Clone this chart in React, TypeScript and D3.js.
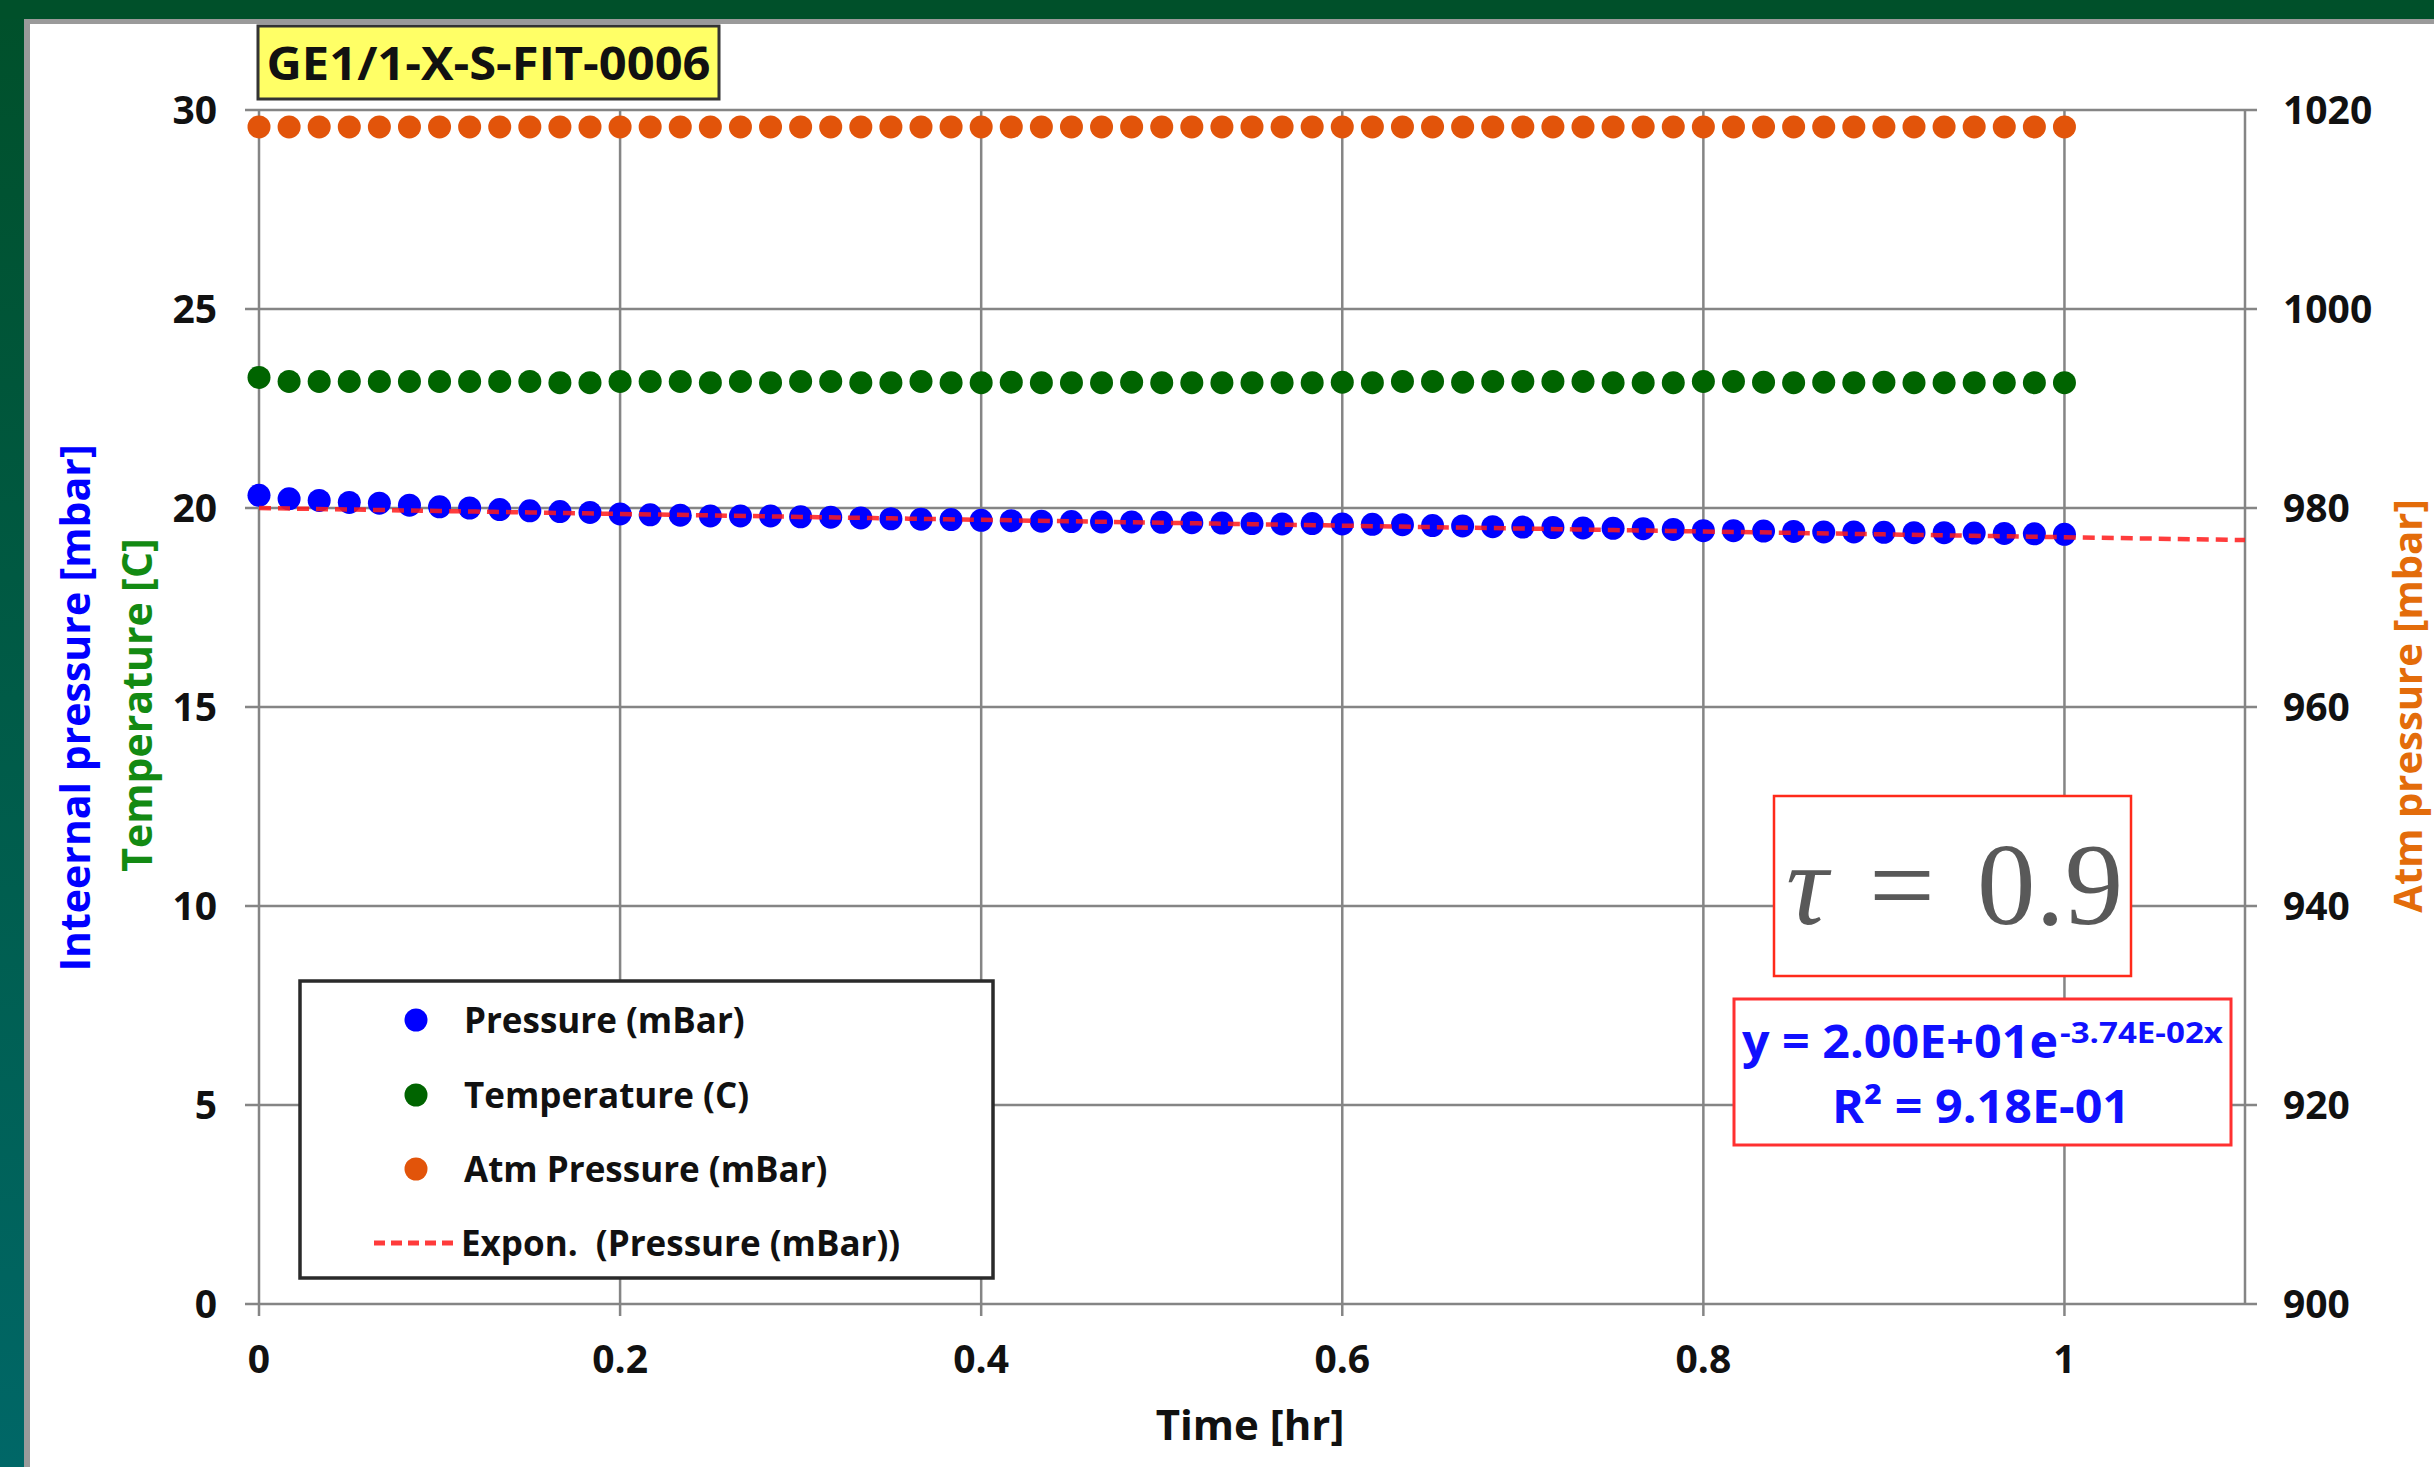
import React from 'react';
import * as d3 from 'd3';

// Time in minutes (converted to hours for plotting)
const TIME_MIN = [
  0, 1, 2, 3, 4, 5, 6, 7, 8, 9, 10, 11, 12, 13, 14, 15, 16, 17, 18, 19, 20,
  21, 22, 23, 24, 25, 26, 27, 28, 29, 30, 31, 32, 33, 34, 35, 36, 37, 38, 39, 40,
  41, 42, 43, 44, 45, 46, 47, 48, 49, 50, 51, 52, 53, 54, 55, 56, 57, 58, 59, 60,
];

const PRESSURE = [
  20.32, 20.23, 20.19, 20.14, 20.12, 20.07, 20.03, 20.0, 19.96, 19.93, 19.91,
  19.89, 19.85, 19.83, 19.82, 19.8, 19.8, 19.8, 19.78, 19.77, 19.75,
  19.73, 19.72, 19.71, 19.69, 19.68, 19.67, 19.66, 19.65, 19.65, 19.64,
  19.63, 19.62, 19.61, 19.6, 19.61, 19.6, 19.59, 19.58, 19.56, 19.55,
  19.53, 19.52, 19.51, 19.5, 19.49, 19.48, 19.46, 19.43, 19.43, 19.42,
  19.41, 19.4, 19.4, 19.39, 19.38, 19.38, 19.37, 19.36, 19.35, 19.34,
];

const TEMPERATURE = [
  23.28, 23.18, 23.18, 23.18, 23.18, 23.18, 23.18, 23.18, 23.18, 23.18, 23.15,
  23.15, 23.18, 23.18, 23.18, 23.15, 23.18, 23.15, 23.18, 23.18, 23.15,
  23.15, 23.18, 23.15, 23.15, 23.16, 23.15, 23.15, 23.15, 23.16, 23.15,
  23.15, 23.15, 23.15, 23.15, 23.15, 23.16, 23.15, 23.18, 23.18, 23.16,
  23.18, 23.18, 23.18, 23.18, 23.15, 23.15, 23.15, 23.18, 23.18, 23.16,
  23.15, 23.16, 23.15, 23.16, 23.15, 23.15, 23.15, 23.15, 23.15, 23.15,
];

const ATM_PRESSURE = [
  1018.3, 1018.3, 1018.3, 1018.3, 1018.3, 1018.3, 1018.3, 1018.3, 1018.3, 1018.3, 1018.3,
  1018.3, 1018.3, 1018.3, 1018.3, 1018.3, 1018.3, 1018.3, 1018.3, 1018.3, 1018.3,
  1018.3, 1018.3, 1018.3, 1018.3, 1018.3, 1018.3, 1018.3, 1018.3, 1018.3, 1018.3,
  1018.3, 1018.3, 1018.3, 1018.3, 1018.3, 1018.3, 1018.3, 1018.3, 1018.3, 1018.3,
  1018.3, 1018.3, 1018.3, 1018.3, 1018.3, 1018.3, 1018.3, 1018.3, 1018.3, 1018.3,
  1018.3, 1018.3, 1018.3, 1018.3, 1018.3, 1018.3, 1018.3, 1018.3, 1018.3, 1018.3,
];

// Exponential trendline parameters (from the chart's equation)
const FIT_A = 20.0;
const FIT_B = -0.0374;

const X_TICKS = [0, 0.2, 0.4, 0.6, 0.8, 1];
const Y_LEFT_TICKS = [0, 5, 10, 15, 20, 25, 30];
const Y_RIGHT_TICKS = [900, 920, 940, 960, 980, 1000, 1020];

const TITLE = 'GE1/1-X-S-FIT-0006';
const LEGEND_LABELS = ['Pressure (mBar)', 'Temperature (C)', 'Atm Pressure (mBar)', 'Expon.  (Pressure (mBar))'];

const C_BLUE = '#0000ff';
const C_GREEN = '#006400';
const C_ORANGE = '#e2540a';
const C_RED = '#ff1a1a';
const C_GRID = '#858585';
const FONT = "'Open Sans', sans-serif";

export default function App() {
  const W = 2434;
  const H = 1467;
  const x = d3.scaleLinear().domain([0, 1.1]).range([259, 2245]);
  const yL = d3.scaleLinear().domain([0, 30]).range([1304, 110]);
  const yR = d3.scaleLinear().domain([900, 1020]).range([1304, 110]);

  const times = TIME_MIN.map((m) => m / 60);
  const trendX = d3.range(0, 1.1 + 1e-9, 0.01);
  const trendLine = d3
    .line<number>()
    .x((t) => x(t))
    .y((t) => yL(FIT_A * Math.exp(FIT_B * t)))(trendX);

  const x0 = x(0);
  const x1 = x(1.1);
  const yTop = yL(30);
  const yBot = yL(0);
  const R = 11.5;

  const legendRows = [1020, 1095, 1169, 1243];

  return (
    <svg
      width={W}
      height={H}
      style={{ position: 'fixed', left: 0, top: 0, background: '#fff' }}
      fontFamily={FONT}
    >
      <defs>
        <linearGradient id="leftStrip" x1="0" y1="0" x2="0" y2="1">
          <stop offset="0" stopColor="#00502a" />
          <stop offset="1" stopColor="#006767" />
        </linearGradient>
      </defs>
      {/* frame */}
      <rect x={0} y={0} width={W} height={H} fill="#ffffff" />
      <rect x={24} y={19} width={6} height={H} fill="#9a9a9a" />
      <rect x={24} y={19} width={W} height={5} fill="#9a9a9a" />
      <rect x={0} y={0} width={24} height={H} fill="url(#leftStrip)" />
      <rect x={0} y={0} width={W} height={19} fill="#00502a" />

      {/* gridlines */}
      {Y_LEFT_TICKS.map((t) => (
        <line key={'h' + t} x1={x0 - 14} x2={x1 + 12} y1={yL(t)} y2={yL(t)} stroke={C_GRID} strokeWidth={2.5} />
      ))}
      {[...X_TICKS, 1.1].map((t) => (
        <line key={'v' + t} x1={x(t)} x2={x(t)} y1={yTop} y2={yBot + (t === 1.1 ? 0 : 12)} stroke={C_GRID} strokeWidth={2.5} />
      ))}

      {/* tick labels */}
      {Y_LEFT_TICKS.map((t) => (
        <text key={'yl' + t} x={217} y={yL(t)} dy="0.36em" textAnchor="end" fontSize={39} fontWeight={700} fill="#111">
          {t}
        </text>
      ))}
      {Y_RIGHT_TICKS.map((t) => (
        <text key={'yr' + t} x={2283} y={yR(t)} dy="0.36em" textAnchor="start" fontSize={39} fontWeight={700} fill="#111">
          {t}
        </text>
      ))}
      {X_TICKS.map((t) => (
        <text key={'xt' + t} x={x(t)} y={1359} dy="0.36em" textAnchor="middle" fontSize={39} fontWeight={700} fill="#111">
          {String(t)}
        </text>
      ))}

      {/* axis titles */}
      <text x={1250} y={1425} dy="0.36em" textAnchor="middle" fontSize={42} fontWeight={700} fill="#111">
        Time [hr]
      </text>
      <text transform="translate(75,708) rotate(-90)" dy="0.36em" textAnchor="middle" fontSize={41} fontWeight={700} fill={C_BLUE}>
        Inteernal pressure [mbar]
      </text>
      <text transform="translate(137,705) rotate(-90)" dy="0.36em" textAnchor="middle" fontSize={41} fontWeight={700} fill="#138a13">
        Temperature [C]
      </text>
      <text transform="translate(2408,706) rotate(-90)" dy="0.36em" textAnchor="middle" fontSize={40} fontWeight={700} fill="#e36c0a">
        Atm pressure [mbar]
      </text>

      {/* data */}
      <g>
        {PRESSURE.map((v, i) => (
          <circle key={'p' + i} cx={x(times[i])} cy={yL(v)} r={R} fill={C_BLUE} />
        ))}
        {TEMPERATURE.map((v, i) => (
          <circle key={'t' + i} cx={x(times[i])} cy={yL(v)} r={R} fill={C_GREEN} />
        ))}
        {ATM_PRESSURE.map((v, i) => (
          <circle key={'a' + i} cx={x(times[i])} cy={yR(v)} r={R} fill={C_ORANGE} />
        ))}
        <path d={trendLine || ''} fill="none" stroke={C_RED} strokeWidth={4.5} strokeDasharray="12 7" opacity={0.85} />
      </g>

      {/* title box */}
      <rect x={258} y={26} width={461} height={73} fill="#ffff66" stroke="#333" strokeWidth={3} />
      <text x={488.5} y={63} dy="0.36em" textAnchor="middle" fontSize={47} fontWeight={700} fill="#111" textLength={444} lengthAdjust="spacingAndGlyphs">
        {TITLE}
      </text>

      {/* legend */}
      <rect x={300} y={981} width={693} height={297} fill="#fff" stroke="#2a2a2a" strokeWidth={3.5} />
      {[C_BLUE, C_GREEN, C_ORANGE].map((c, i) => (
        <circle key={'lg' + i} cx={416} cy={legendRows[i]} r={R} fill={c} />
      ))}
      <line x1={374} x2={458} y1={legendRows[3]} y2={legendRows[3]} stroke={C_RED} strokeWidth={5} strokeDasharray="11 6" opacity={0.85} />
      {LEGEND_LABELS.map((l, i) => (
        <text key={'ll' + i} x={i === 3 ? 461 : 464} y={legendRows[i]} dy="0.36em" fontSize={35} fontWeight={700} fill="#111" style={{ whiteSpace: 'pre' }}>
          {l}
        </text>
      ))}

      {/* tau annotation */}
      <rect x={1774} y={796} width={357} height={180} fill="#fff" stroke="#ff2a1a" strokeWidth={2.5} />
      <g fontFamily="'Liberation Serif', 'DejaVu Serif', serif" fill="#595959" fontSize={117}>
        <text x={1786} y={924} fontStyle="italic">τ</text>
        <text x={1869} y={924}>=</text>
        <text x={1977} y={924}>0.9</text>
      </g>

      {/* equation box */}
      <rect x={1734} y={999} width={497} height={146} fill="#fff" stroke="#ff3030" strokeWidth={3} />
      <text x={1742} y={1058} fontSize={46} fontWeight={700} fill="#1010ff" textLength={316} lengthAdjust="spacingAndGlyphs">
        y = 2.00E+01e
      </text>
      <text x={2060} y={1043} fontSize={29} fontWeight={700} fill="#1010ff" textLength={163} lengthAdjust="spacingAndGlyphs">
        -3.74E-02x
      </text>
      <text x={1832} y={1123} fontSize={46} fontWeight={700} fill="#1010ff" textLength={298} lengthAdjust="spacingAndGlyphs">
        R² = 9.18E-01
      </text>
    </svg>
  );
}
